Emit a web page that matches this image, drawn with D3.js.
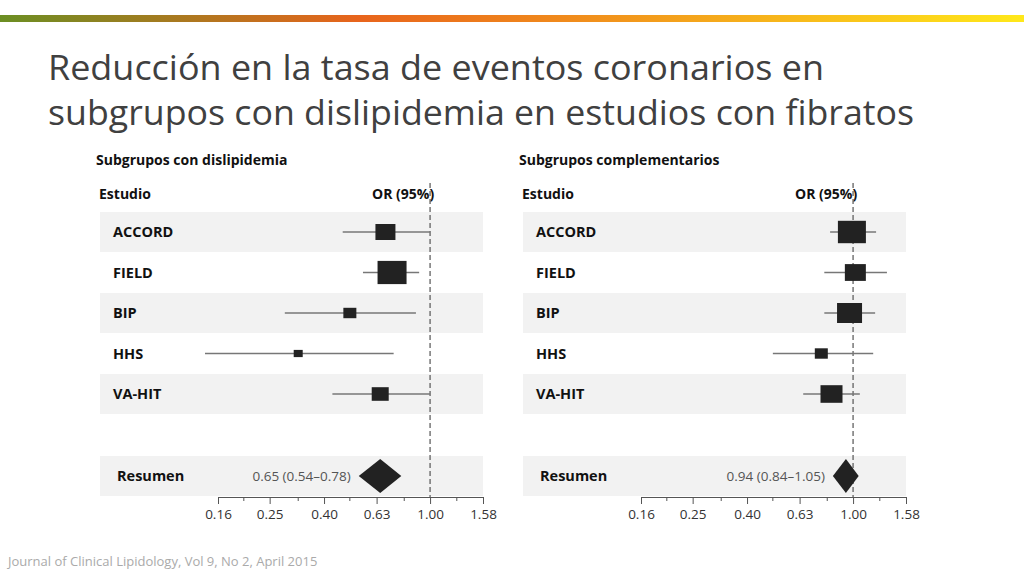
<!DOCTYPE html>
<html><head><meta charset="utf-8">
<script src="https://cdn.jsdelivr.net/npm/d3@7"></script>
<style>body{margin:0;background:#fff}svg{display:block}</style>
</head><body>
<svg id="c" width="1024" height="576"></svg>
<script>
var studies = ["ACCORD", "FIELD", "BIP", "HHS", "VA-HIT"];
// dyslipidemia subgroups
var orLeft  = [0.68, 0.72, 0.50, 0.32, 0.65];
var loLeft  = [0.47, 0.56, 0.285, 0.143, 0.43];
var hiLeft  = [1.00, 0.91, 0.885, 0.73, 1.00];
var wLeft   = [20, 29, 13, 9, 17];
var sumLeft = [0.65, 0.54, 0.78];
// complementary subgroups
var orRight  = [0.99, 1.02, 0.97, 0.76, 0.83];
var loRight  = [0.82, 0.78, 0.78, 0.50, 0.65];
var hiRight  = [1.22, 1.34, 1.21, 1.19, 1.06];
var wRight   = [28, 21, 25, 13, 22];
var sumRight = [0.94, 0.84, 1.05];
var tickVals = [0.16, 0.25, 0.40, 0.63, 1.00, 1.58];
var minorTicks = [0.2, 0.32, 0.5, 0.8, 1.26];

var svg = d3.select("#c");
var font = "'Open Sans', sans-serif";

// top gradient bar
var grad = svg.append("defs").append("linearGradient").attr("id", "g1");
[["0%", "#6b8e23"], ["35%", "#e8641c"], ["55%", "#f08a1c"], ["100%", "#ffe81a"]].forEach(function(s) {
  grad.append("stop").attr("offset", s[0]).attr("stop-color", s[1]);
});
svg.append("rect").attr("x", 0).attr("y", 15).attr("width", 1024).attr("height", 7).attr("fill", "url(#g1)");

svg.append("text").attr("x", 48).attr("y", 80).attr("font-family", font).attr("font-size", 35)
  .attr("fill", "#404040").attr("textLength", 776).attr("lengthAdjust", "spacingAndGlyphs")
  .text("Reducción en la tasa de eventos coronarios en");
svg.append("text").attr("x", 48).attr("y", 125).attr("font-family", font).attr("font-size", 35)
  .attr("fill", "#404040").attr("textLength", 866).attr("lengthAdjust", "spacingAndGlyphs")
  .text("subgrupos con dislipidemia en estudios con fibratos");

svg.append("text").attr("x", 8).attr("y", 566).attr("font-family", font).attr("font-size", 13)
  .attr("fill", "#aaaaaa").text("Journal of Clinical Lipidology, Vol 9, No 2, April 2015");

function panel(x0, title, or, lo, hi, w, sum) {
  var g = svg.append("g");
  var x = d3.scaleLog().domain([0.16, 1.58]).range([x0 + 118, x0 + 383]);
  var rowY = d3.scaleLinear().domain([0, 1]).range([232, 272.5]);

  g.append("text").attr("x", x0 - 4).attr("y", 165).attr("font-family", font).attr("font-weight", "bold")
    .attr("font-size", 14).attr("fill", "#111").text(title);
  g.append("text").attr("x", x0 - 1).attr("y", 199).attr("font-family", font).attr("font-weight", "bold")
    .attr("font-size", 14).attr("fill", "#111").text("Estudio");
  g.append("text").attr("x", x(1) - 58).attr("y", 199).attr("font-family", font).attr("font-weight", "bold")
    .attr("font-size", 14).attr("fill", "#111").text("OR (95%)");

  studies.forEach(function(s, i) {
    if (i % 2 === 0) g.append("rect").attr("x", x0).attr("y", rowY(i) - 20).attr("width", 383)
      .attr("height", 40).attr("fill", "#f2f2f2");
  });
  g.append("rect").attr("x", x0).attr("y", 456).attr("width", 383).attr("height", 40).attr("fill", "#f2f2f2");

  g.append("line").attr("x1", x(1)).attr("x2", x(1)).attr("y1", 183).attr("y2", 497)
    .attr("stroke", "#555").attr("stroke-dasharray", "5,3").attr("stroke-width", 1.2);

  studies.forEach(function(s, i) {
    var y = rowY(i);
    g.append("text").attr("x", x0 + 13).attr("y", y + 5).attr("font-family", font).attr("font-weight", "bold")
      .attr("font-size", 14.5).attr("fill", "#111").text(s);
    g.append("line").attr("x1", x(lo[i])).attr("x2", x(hi[i])).attr("y1", y).attr("y2", y)
      .attr("stroke", "#777").attr("stroke-width", 1.3);
    var h = w[i] * 0.8;
    g.append("rect").attr("x", x(or[i]) - w[i] / 2).attr("y", y - h / 2).attr("width", w[i]).attr("height", h)
      .attr("fill", "#222");
  });

  var sy = 476;
  g.append("text").attr("x", x0 + 17).attr("y", sy + 5).attr("font-family", font).attr("font-weight", "bold")
    .attr("font-size", 14.5).attr("fill", "#111").text("Resumen");
  g.append("path").attr("fill", "#222").attr("d",
    "M" + x(sum[1]) + "," + sy + "L" + x(sum[0]) + "," + (sy - 17) + "L" + x(sum[2]) + "," + sy +
    "L" + x(sum[0]) + "," + (sy + 17) + "Z");
  g.append("text").attr("x", x(sum[1]) - 8).attr("y", sy + 5).attr("text-anchor", "end")
    .attr("font-family", font).attr("font-size", 13.5).attr("fill", "#555")
    .text(sum[0].toFixed(2) + " (" + sum[1].toFixed(2) + "\u2013" + sum[2].toFixed(2) + ")");

  var ax = g.append("g").attr("transform", "translate(0,497)")
    .call(d3.axisBottom(x).tickValues(tickVals).tickFormat(d3.format(".2f")).tickSize(7).tickSizeOuter(0));
  ax.select(".domain").attr("stroke", "#555");
  ax.selectAll(".tick line").attr("stroke", "#555");
  ax.selectAll("text").attr("font-family", font).attr("font-size", 13.5).attr("fill", "#333").attr("dy", "0.9em");
  minorTicks.forEach(function(t) {
    g.append("line").attr("x1", x(t)).attr("x2", x(t)).attr("y1", 497).attr("y2", 501).attr("stroke", "#555");
  });
}

panel(100, "Subgrupos con dislipidemia", orLeft, loLeft, hiLeft, wLeft, sumLeft);
panel(523, "Subgrupos complementarios", orRight, loRight, hiRight, wRight, sumRight);
</script>
</body></html>
